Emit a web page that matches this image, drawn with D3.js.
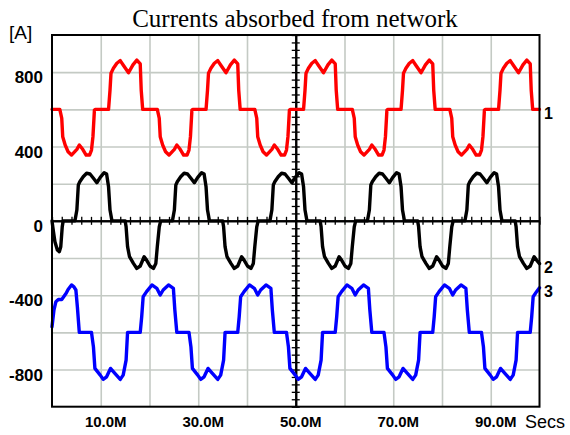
<!DOCTYPE html>
<html><head><meta charset="utf-8">
<script src="https://cdn.jsdelivr.net/npm/d3@7"></script>
<style>html,body{margin:0;padding:0;background:#fff;}svg{display:block;}</style>
</head><body>
<svg id="c" width="570" height="435"></svg>
<script>
// ---- data (time in ms, current in A) ----
const title = "Currents absorbed from network";
const xTickValues = [10, 30, 50, 70, 90];
const yTickValues = [800, 400, 0, -400, -800];
const seriesNames = ["1", "2", "3"];
const seriesColors = ["#ff0000", "#000000", "#0000ff"];

const red = [[0,600],[1.6,600],[2.0,552],[2.2,453],[2.7,408],[3.3,372],[4.0,354],[5.1,385],[5.6,408],[6.3,385],[7.0,354],[7.7,354],[8.1,381],[8.4,453],[8.7,596],[8.9,600],[11.6,600],[11.9,704],[12.1,794],[12.6,821],[13.3,848],[14.0,862],[14.6,839],[15.7,797],[16.6,839],[17.4,865],[18.1,844],[18.3,704],[18.6,600],
[21.6,600],[22.0,552],[22.2,453],[22.7,408],[23.3,372],[24.0,354],[25.1,385],[25.6,408],[26.3,385],[27.0,354],[27.7,354],[28.1,381],[28.4,453],[28.7,596],[28.9,600],[31.6,600],[31.9,704],[32.1,794],[32.6,821],[33.3,848],[34.0,862],[34.6,839],[35.7,797],[36.6,839],[37.4,865],[38.1,844],[38.3,704],[38.6,600],
[41.6,600],[42.0,552],[42.2,453],[42.7,408],[43.3,372],[44.0,354],[45.1,385],[45.6,408],[46.3,385],[47.0,354],[47.7,354],[48.1,381],[48.4,453],[48.7,596],[48.9,600],[51.6,600],[51.9,704],[52.1,794],[52.6,821],[53.3,848],[54.0,862],[54.6,839],[55.7,797],[56.6,839],[57.4,865],[58.1,844],[58.3,704],[58.6,600],
[61.6,600],[62.0,552],[62.2,453],[62.7,408],[63.3,372],[64.0,354],[65.1,385],[65.6,408],[66.3,385],[67.0,354],[67.7,354],[68.1,381],[68.4,453],[68.7,596],[68.9,600],[71.6,600],[71.9,704],[72.1,794],[72.6,821],[73.3,848],[74.0,862],[74.6,839],[75.7,797],[76.6,839],[77.4,865],[78.1,844],[78.3,704],[78.6,600],
[81.6,600],[82.0,552],[82.2,453],[82.7,408],[83.3,372],[84.0,354],[85.1,385],[85.6,408],[86.3,385],[87.0,354],[87.7,354],[88.1,381],[88.4,453],[88.7,596],[88.9,600],[91.6,600],[91.9,704],[92.1,794],[92.6,821],[93.3,848],[94.0,862],[94.6,839],[95.7,797],[96.6,839],[97.4,865],[98.1,844],[98.3,704],[98.6,600],[100,600]];

const black = [[0,0],[0.3,-59],[0.6,-112],[1.1,-157],[1.5,-166],[1.8,-139],[2.1,-32],[2.3,0],[4.7,0],[5.1,58],[5.4,193],[5.7,210],[6.4,237],[7.1,256],[7.8,252],[8.5,229],[9.2,205],[9.9,234],[10.7,259],[11.2,252],[11.6,183],[11.9,58],[12.3,0],[15.0,0],[15.2,-32],[15.5,-139],[15.9,-193],[16.7,-229],[17.4,-256],[18.1,-243],[18.9,-193],[19.4,-211],[20.1,-243],[20.8,-256],[21.3,-229],[21.6,-139],[22.0,-32],[22.3,0],
[24.7,0],[25.1,58],[25.4,193],[25.7,210],[26.4,237],[27.1,256],[27.8,252],[28.5,229],[29.2,205],[29.9,234],[30.7,259],[31.2,252],[31.6,183],[31.9,58],[32.3,0],[35.0,0],[35.2,-32],[35.5,-139],[35.9,-193],[36.7,-229],[37.4,-256],[38.1,-243],[38.9,-193],[39.4,-211],[40.1,-243],[40.8,-256],[41.3,-229],[41.6,-139],[42.0,-32],[42.3,0],
[44.7,0],[45.1,58],[45.4,193],[45.7,210],[46.4,237],[47.1,256],[47.8,252],[48.5,229],[49.2,205],[49.9,234],[50.7,259],[51.2,252],[51.6,183],[51.9,58],[52.3,0],[55.0,0],[55.2,-32],[55.5,-139],[55.9,-193],[56.7,-229],[57.4,-256],[58.1,-243],[58.9,-193],[59.4,-211],[60.1,-243],[60.8,-256],[61.3,-229],[61.6,-139],[62.0,-32],[62.3,0],
[64.7,0],[65.1,58],[65.4,193],[65.7,210],[66.4,237],[67.1,256],[67.8,252],[68.5,229],[69.2,205],[69.9,234],[70.7,259],[71.2,252],[71.6,183],[71.9,58],[72.3,0],[75.0,0],[75.2,-32],[75.5,-139],[75.9,-193],[76.7,-229],[77.4,-256],[78.1,-243],[78.9,-193],[79.4,-211],[80.1,-243],[80.8,-256],[81.3,-229],[81.6,-139],[82.0,-32],[82.3,0],
[84.7,0],[85.1,58],[85.4,193],[85.7,210],[86.4,237],[87.1,256],[87.8,252],[88.5,229],[89.2,205],[89.9,234],[90.7,259],[91.2,252],[91.6,183],[91.9,58],[92.3,0],[95.0,0],[95.2,-32],[95.5,-139],[95.9,-193],[96.7,-229],[97.4,-256],[98.1,-243],[98.9,-193],[99.4,-211],[100,-230]];

const blue = [[0,-570],[0.4,-480],[0.8,-435],[1.3,-423],[2.0,-423],[2.9,-390],[3.3,-369],[4.0,-345],[4.5,-355],[4.9,-372],[5.2,-462],[5.6,-600],[8.1,-600],[8.5,-678],[8.8,-794],[9.9,-830],[10.5,-853],[11.2,-839],[12.0,-794],[12.9,-821],[14.0,-853],[14.6,-830],[15.2,-749],[15.5,-600],[18.1,-600],[18.4,-516],[18.7,-408],[19.4,-381],[20.5,-345],[21.5,-363],[22.2,-399],[22.8,-372],[23.9,-345],[24.9,-363],[25.2,-480],[25.6,-600],
[28.1,-600],[28.5,-678],[28.8,-794],[29.9,-830],[30.5,-853],[31.2,-839],[32.0,-794],[32.9,-821],[34.0,-853],[34.6,-830],[35.2,-749],[35.5,-600],[38.1,-600],[38.4,-516],[38.7,-408],[39.4,-381],[40.5,-345],[41.5,-363],[42.2,-399],[42.8,-372],[43.9,-345],[44.9,-363],[45.2,-480],[45.6,-600],
[48.1,-600],[48.5,-678],[48.8,-794],[49.9,-830],[50.5,-853],[51.2,-839],[52.0,-794],[52.9,-821],[54.0,-853],[54.6,-830],[55.2,-749],[55.5,-600],[58.1,-600],[58.4,-516],[58.7,-408],[59.4,-381],[60.5,-345],[61.5,-363],[62.2,-399],[62.8,-372],[63.9,-345],[64.9,-363],[65.2,-480],[65.6,-600],
[68.1,-600],[68.5,-678],[68.8,-794],[69.9,-830],[70.5,-853],[71.2,-839],[72.0,-794],[72.9,-821],[74.0,-853],[74.6,-830],[75.2,-749],[75.5,-600],[78.1,-600],[78.4,-516],[78.7,-408],[79.4,-381],[80.5,-345],[81.5,-363],[82.2,-399],[82.8,-372],[83.9,-345],[84.9,-363],[85.2,-480],[85.6,-600],
[88.1,-600],[88.5,-678],[88.8,-794],[89.9,-830],[90.5,-853],[91.2,-839],[92.0,-794],[92.9,-821],[94.0,-853],[94.6,-830],[95.2,-749],[95.5,-600],[98.1,-600],[98.4,-516],[98.7,-408],[99.4,-381],[100,-360]];

// ---- layout ----
const L = 52, R = 539.5, T = 35, B = 406.7;
const svg = d3.select("#c");
const x = d3.scaleLinear().domain([0, 100]).range([L, R]);
const y = d3.scaleLinear().domain([-1000, 1000]).range([B, T]);

// grid
const gx = svg.append("g").attr("transform", `translate(0,${B})`)
  .call(d3.axisBottom(x).tickValues(d3.range(10, 100, 10)).tickSize(-(B - T)).tickFormat(""));
const gy = svg.append("g").attr("transform", `translate(${L},0)`)
  .call(d3.axisLeft(y).tickValues(d3.range(-800, 1000, 200)).tickSize(-(R - L)).tickFormat(""));
[gx, gy].forEach(g => {
  g.select(".domain").remove();
  g.selectAll(".tick line").attr("stroke", "#c4cac4").attr("stroke-width", 1.6);
});

// centre axes with minor ticks
function centreAxis(gen, tr) {
  const g = svg.append("g").attr("transform", tr).call(gen);
  g.selectAll(".tick text").remove();
  g.selectAll(".tick line").attr("stroke", "#000").attr("stroke-width", 1.3);
  g.select(".domain").attr("stroke", "#000").attr("stroke-width", 2);
  return g;
}
const minorX = d3.range(0, 100.01, 2);
const minorY = d3.range(-1000, 1000.1, 40);
centreAxis(d3.axisBottom(x).tickValues(minorX).tickSize(4).tickSizeOuter(0), `translate(0,${y(0)})`);
centreAxis(d3.axisTop(x).tickValues(minorX).tickSize(4).tickSizeOuter(0), `translate(0,${y(0)})`);
centreAxis(d3.axisLeft(y).tickValues(minorY).tickSize(4).tickSizeOuter(0), `translate(${x(50)},0)`);
centreAxis(d3.axisRight(y).tickValues(minorY).tickSize(4).tickSizeOuter(0), `translate(${x(50)},0)`);

// series
const line = d3.line().x(d => x(d[0])).y(d => y(d[1]));
const seriesData = [red, black, blue];
svg.append("g").selectAll("path").data(seriesData).join("path")
  .attr("d", line).attr("fill", "none")
  .attr("stroke", (d, i) => seriesColors[i])
  .attr("stroke-width", 3.4).attr("stroke-linejoin", "round").attr("stroke-linecap", "round");

// frame
svg.append("rect").attr("x", L).attr("y", T).attr("width", R - L).attr("height", B - T)
  .attr("fill", "none").attr("stroke", "#000").attr("stroke-width", 2);

// tick labels
svg.append("g").selectAll("text").data(xTickValues).join("text")
  .attr("x", d => x(d) + 5).attr("y", 427)
  .attr("text-anchor", "middle")
  .style("font", "bold 15px 'Liberation Sans', Arial, sans-serif")
  .text(d => d.toFixed(1) + "M");
svg.append("text").attr("x", 525).attr("y", 428)
  .style("font", "18px 'Liberation Sans', Arial, sans-serif").text("Secs");

svg.append("g").selectAll("text").data(yTickValues).join("text")
  .attr("x", 43).attr("y", d => y(d) + 5.5)
  .attr("text-anchor", "end").attr("dominant-baseline", "central")
  .style("font", "bold 17px 'Liberation Sans', Arial, sans-serif")
  .text(d => String(d));

// series end labels
svg.append("g").selectAll("text").data(seriesData).join("text")
  .attr("x", 544).attr("y", d => y(d[d.length - 1][1]) + 4)
  .attr("dominant-baseline", "central")
  .style("font", "bold 16px 'Liberation Sans', Arial, sans-serif")
  .text((d, i) => seriesNames[i]);

// unit label and title
svg.append("text").attr("x", 9).attr("y", 39)
  .style("font", "19px 'Liberation Sans', Arial, sans-serif").text("[A]");
svg.append("text").attr("x", 295).attr("y", 27).attr("text-anchor", "middle")
  .style("font", "25px 'Liberation Serif', 'Times New Roman', serif").text(title);
</script>
</body></html>
